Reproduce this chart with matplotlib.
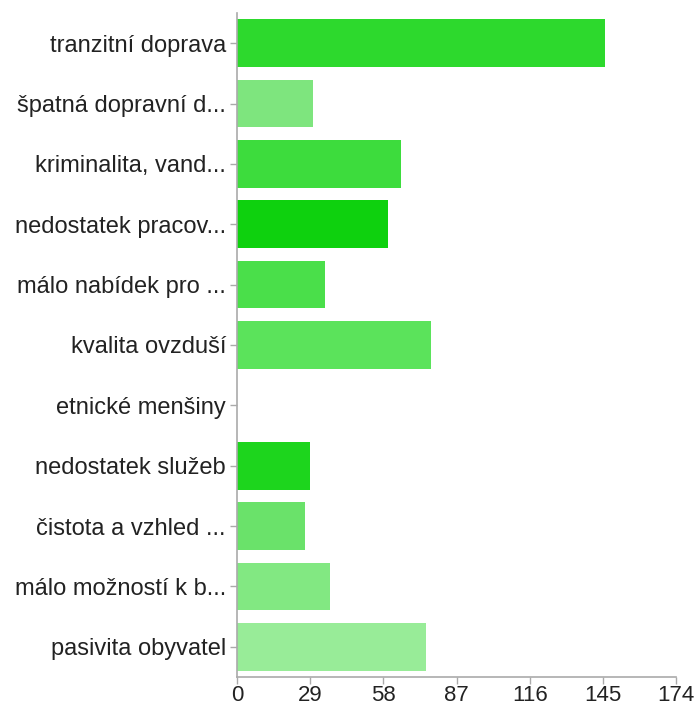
import matplotlib
matplotlib.use("Agg")
import matplotlib.pyplot as plt

categories = ["tranzitní doprava", "špatná dopravní d...", "kriminalita, vand...",
              "nedostatek pracov...", "málo nabídek pro ...", "kvalita ovzduší",
              "etnické menšiny", "nedostatek služeb", "čistota a vzhled ...",
              "málo možností k b...", "pasivita obyvatel"]
values = [146, 30, 65, 60, 35, 77, 0, 29, 27, 37, 75]
colors = ["#2dd92d", "#7ee57e", "#3ddc3d", "#0ed10e", "#4adf4a", "#5be35b",
          "#5be35b", "#1dd51d", "#6ae26a", "#82e882", "#98ec98"]
xticks = [0, 29, 58, 87, 116, 145, 174]

plt.rcParams['font.family'] = ['Liberation Sans', 'DejaVu Sans']
fig = plt.figure(figsize=(6.96, 7.08), dpi=100)
ax = fig.add_axes([237/696, 31/708, 439/696, 664/708])
y = list(range(len(categories)))
ax.barh(y, values, height=0.79, color=colors, edgecolor='none')
ax.set_ylim(len(categories) - 0.5, -0.5)
ax.set_xlim(0, 174)
ax.set_xticks(xticks)
ax.set_yticks(y)
ax.set_yticklabels(categories, fontsize=17, color='#222222')
ax.tick_params(axis='x', labelsize=16, colors='#aaaaaa', labelcolor='#222222', length=5, width=1, pad=1)
ax.tick_params(axis='y', colors='#aaaaaa', labelcolor='#222222', length=5, width=1, pad=3)
for s in ['top', 'right']:
    ax.spines[s].set_visible(False)
for s in ['left', 'bottom']:
    ax.spines[s].set_color('#aaaaaa')
    ax.spines[s].set_linewidth(1.2)
fig.savefig("out.png", dpi=100)
